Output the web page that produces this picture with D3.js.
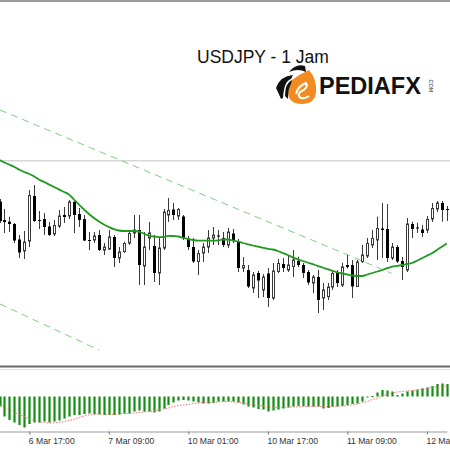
<!DOCTYPE html>
<html>
<head>
<meta charset="utf-8">
<script src="https://cdn.jsdelivr.net/npm/d3@7"></script>
<style>
body { margin: 0; background: #fff; }
svg { display: block; }
</style>
</head>
<body>
<svg id="chart" width="450" height="450"></svg>
<script>
var width = 450;
var height = 450;

// hourly bars, index 0 = 6 Mar 11:00
var tickBars = [6, 22, 38, 54, 70, 86];
var tickLabels = ["6 Mar 17:00", "7 Mar 09:00", "10 Mar 01:00", "10 Mar 17:00", "11 Mar 09:00", "12 Mar 01:00"];

var opens = [147.583, 147.400, 147.383, 147.360, 147.205, 147.090, 147.190, 147.640, 147.400, 147.410,
  147.335, 147.260, 147.340, 147.450, 147.440, 147.580, 147.460, 147.410, 147.200, 147.200,
  147.250, 147.100, 147.110, 147.230, 147.020, 147.085, 147.170, 147.270, 147.300, 146.940,
  147.220, 147.140, 146.870, 147.120, 147.450, 147.505, 147.440, 147.435, 147.215, 147.130,
  146.985, 147.070, 147.130, 147.220, 147.245, 147.220, 147.150, 147.265, 147.190, 146.920,
  146.900, 146.720, 146.870, 146.700, 146.865, 146.620, 146.885, 146.960, 146.900, 146.935,
  146.990, 146.950, 146.880, 146.770, 146.830, 146.620, 146.635, 146.730, 146.870, 146.750,
  146.950, 146.950, 146.735, 146.985, 147.040, 147.150, 147.200, 147.315, 147.310, 147.020,
  147.130, 146.990, 146.900, 147.360, 147.325, 147.305, 147.300, 147.410, 147.510, 147.570,
  147.510];
var highs = [147.610, 147.510, 147.433, 147.370, 147.250, 147.290, 147.700, 147.750, 147.490, 147.470,
  147.380, 147.400, 147.500, 147.530, 147.600, 147.600, 147.520, 147.450, 147.280, 147.280,
  147.300, 147.170, 147.300, 147.250, 147.130, 147.183, 147.300, 147.450, 147.450, 147.280,
  147.380, 147.250, 147.230, 147.510, 147.620, 147.570, 147.520, 147.450, 147.240, 147.220,
  147.100, 147.170, 147.300, 147.330, 147.300, 147.280, 147.320, 147.310, 147.210, 147.030,
  146.950, 146.880, 146.890, 146.860, 146.920, 146.970, 147.010, 147.020, 147.040, 147.100,
  147.033, 146.970, 146.900, 146.850, 146.900, 146.770, 146.770, 146.900, 146.900, 146.973,
  147.050, 147.000, 147.000, 147.150, 147.220, 147.300, 147.433, 147.570, 147.560, 147.170,
  147.150, 147.030, 147.420, 147.383, 147.373, 147.350, 147.440, 147.570, 147.590, 147.590,
  147.540];
var lows = [147.370, 147.270, 147.280, 147.170, 147.020, 147.010, 147.130, 147.380, 147.310, 147.250,
  147.240, 147.240, 147.320, 147.370, 147.410, 147.270, 147.330, 147.190, 147.100, 147.170,
  147.090, 147.050, 147.100, 146.930, 146.970, 147.070, 147.150, 147.220, 146.750, 146.750,
  147.100, 146.780, 146.750, 147.100, 147.380, 147.400, 147.400, 147.200, 147.100, 146.970,
  146.850, 146.980, 147.070, 147.150, 147.150, 147.130, 147.120, 147.170, 146.880, 146.880,
  146.720, 146.670, 146.620, 146.630, 146.530, 146.600, 146.870, 146.880, 146.880, 146.830,
  146.930, 146.820, 146.750, 146.670, 146.470, 146.500, 146.600, 146.700, 146.730, 146.730,
  146.915, 146.620, 146.730, 146.970, 147.020, 147.120, 147.000, 147.020, 146.980, 147.000,
  146.970, 146.800, 146.880, 147.220, 147.270, 147.230, 147.270, 147.380, 147.480, 147.383,
  147.390];
var closes = [147.390, 147.380, 147.360, 147.195, 147.075, 147.180, 147.645, 147.390, 147.395, 147.330,
  147.250, 147.345, 147.440, 147.430, 147.580, 147.450, 147.400, 147.195, 147.193, 147.240,
  147.100, 147.130, 147.230, 147.020, 147.080, 147.165, 147.265, 147.300, 146.950, 147.130,
  147.270, 146.870, 147.120, 147.480, 147.495, 147.450, 147.505, 147.220, 147.130, 146.985,
  147.065, 147.130, 147.220, 147.250, 147.235, 147.150, 147.280, 147.190, 146.920, 146.945,
  146.735, 146.850, 146.795, 146.830, 146.620, 146.890, 146.965, 146.920, 146.950, 147.000,
  146.950, 146.870, 146.775, 146.830, 146.600, 146.700, 146.730, 146.865, 146.770, 146.930,
  146.930, 146.735, 146.980, 147.050, 147.165, 147.215, 147.315, 147.300, 147.020, 147.130,
  146.985, 146.930, 147.360, 147.310, 147.315, 147.270, 147.405, 147.515, 147.570, 147.500,
  147.500];

// moving average
var ma = [148.000, 147.975, 147.953, 147.930, 147.903, 147.880, 147.860, 147.835, 147.803, 147.780,
  147.754, 147.730, 147.704, 147.680, 147.654, 147.604, 147.553, 147.505, 147.460, 147.420,
  147.385, 147.355, 147.330, 147.308, 147.295, 147.290, 147.290, 147.290, 147.285, 147.265,
  147.245, 147.235, 147.228, 147.230, 147.242, 147.240, 147.235, 147.220, 147.210, 147.200,
  147.194, 147.193, 147.193, 147.193, 147.195, 147.205, 147.205, 147.195, 147.185, 147.170,
  147.157, 147.145, 147.133, 147.122, 147.112, 147.105, 147.090, 147.070, 147.050, 147.027,
  147.007, 146.990, 146.975, 146.958, 146.942, 146.925, 146.908, 146.892, 146.877, 146.865,
  146.855, 146.845, 146.840, 146.840, 146.855, 146.870, 146.885, 146.900, 146.918, 146.934,
  146.942, 146.950, 146.960, 146.970, 146.993, 147.018, 147.043, 147.068, 147.100, 147.133,
  147.165];

// MACD histogram and signal
var macd = [-0.10, -0.20, -0.235, -0.26, -0.285, -0.31, -0.275, -0.26, -0.26, -0.25,
  -0.26, -0.25, -0.24, -0.22, -0.20, -0.185, -0.185, -0.175, -0.17, -0.175,
  -0.18, -0.185, -0.185, -0.185, -0.18, -0.17, -0.17, -0.15, -0.14, -0.15,
  -0.15, -0.16, -0.15, -0.12, -0.085, -0.06, -0.04, -0.035, -0.04, -0.05,
  -0.06, -0.07, -0.07, -0.065, -0.05, -0.05, -0.05, -0.05, -0.06, -0.08,
  -0.10, -0.11, -0.125, -0.13, -0.15, -0.14, -0.13, -0.12, -0.11, -0.10,
  -0.095, -0.095, -0.10, -0.10, -0.10, -0.12, -0.115, -0.10, -0.10, -0.095,
  -0.085, -0.075, -0.07, -0.05, -0.005, 0.005, 0.04, 0.065, 0.06, 0.05,
  0.015, 0.03, 0.05, 0.06, 0.07, 0.08, 0.09, 0.105, 0.125, 0.13,
  0.125];
var signal = [-0.085, -0.105, -0.13, -0.16, -0.18, -0.20, -0.225, -0.24, -0.255, -0.26,
  -0.265, -0.262, -0.258, -0.25, -0.24, -0.23, -0.21, -0.195, -0.185, -0.18,
  -0.175, -0.175, -0.175, -0.178, -0.175, -0.17, -0.17, -0.165, -0.16, -0.155,
  -0.15, -0.145, -0.135, -0.125, -0.115, -0.10, -0.09, -0.085, -0.08, -0.07,
  -0.065, -0.06, -0.06, -0.055, -0.055, -0.05, -0.05, -0.055, -0.06, -0.065,
  -0.075, -0.085, -0.09, -0.095, -0.105, -0.105, -0.11, -0.11, -0.105, -0.105,
  -0.105, -0.10, -0.10, -0.10, -0.10, -0.10, -0.10, -0.10, -0.095, -0.095,
  -0.09, -0.085, -0.075, -0.06, -0.05, -0.03, -0.015, 0.005, 0.02, 0.035,
  0.045, 0.05, 0.055, 0.06, 0.065, 0.075, 0.08, 0.09, 0.095, 0.10,
  0.11];

// channel lines: [bar index, price]
var upperChannel = [[0.1, 148.500], [78.9, 146.867]];
var lowerChannel = [[0.1, 146.560], [20.0, 146.100]];
var levelPrice = 147.993;

var x = d3.scaleLinear().domain([0, 90]).range([-0.5, 446.8]);
var y = d3.scaleLinear().domain([149.58, 145.94]).range([2, 366]);
var yMacd = d3.scaleLinear().domain([0.3, -0.35]).range([366.5, 431.5]);

var svg = d3.select("#chart").attr("viewBox", [0, 0, width, height]);

svg.append("rect").attr("width", width).attr("height", height).attr("fill", "#fff");

// frame line at the top
svg.append("line").attr("x1", 0).attr("x2", width).attr("y1", 1).attr("y2", 1)
    .attr("stroke", "#7a7a7a").attr("stroke-width", 1.5);

// level line
svg.append("line")
    .attr("x1", 0).attr("x2", width)
    .attr("y1", y(levelPrice)).attr("y2", y(levelPrice))
    .attr("stroke", "#d6d6d6").attr("stroke-width", 1.5);

// channel
var chanLine = d3.line().x(d => x(d[0])).y(d => y(d[1]));
[upperChannel, lowerChannel].forEach(function (c) {
    svg.append("path")
        .attr("d", chanLine(c))
        .attr("fill", "none")
        .attr("stroke", "#7fcf7f")
        .attr("stroke-width", 1)
        .attr("stroke-dasharray", "7,5");
});

var candles = opens.map((o, i) => ({i: i, o: o, h: highs[i], l: lows[i], c: closes[i]}));

var cg = svg.append("g");
cg.selectAll("line")
    .data(candles)
    .join("line")
    .attr("x1", d => Math.round(x(d.i)) + 0.5)
    .attr("x2", d => Math.round(x(d.i)) + 0.5)
    .attr("y1", d => y(d.h))
    .attr("y2", d => y(d.l))
    .attr("stroke", "#3a3a3a")
    .attr("stroke-width", 1);

cg.selectAll("rect")
    .data(candles)
    .join("rect")
    .attr("x", d => Math.round(x(d.i)) - 1 + (d.c >= d.o ? 0.5 : 0))
    .attr("width", d => d.c >= d.o ? 2 : 3)
    .attr("y", d => y(Math.max(d.o, d.c)))
    .attr("height", d => Math.max(1, y(Math.min(d.o, d.c)) - y(Math.max(d.o, d.c))))
    .attr("fill", d => d.c >= d.o ? "#fff" : "#000")
    .attr("stroke", d => d.c >= d.o ? "#3a3a3a" : "none")
    .attr("stroke-width", 1);

// moving average
svg.append("path")
    .attr("d", d3.line().x((d, i) => x(i)).y(d => y(d)).curve(d3.curveMonotoneX)(ma))
    .attr("fill", "none")
    .attr("stroke", "#1f9a1f")
    .attr("stroke-width", 1.8);

// separator between panels
svg.append("line").attr("x1", 0).attr("x2", width).attr("y1", 366.5).attr("y2", 366.5)
    .attr("stroke", "#6a6a6a").attr("stroke-width", 2);
svg.append("line").attr("x1", 0).attr("x2", width).attr("y1", 369.5).attr("y2", 369.5)
    .attr("stroke", "#dedede").attr("stroke-width", 1);

// MACD histogram
svg.append("g")
    .selectAll("rect")
    .data(macd)
    .join("rect")
    .attr("x", (d, i) => Math.round(x(i)) - 0.6)
    .attr("width", 2.2)
    .attr("y", d => yMacd(Math.max(0, d)))
    .attr("height", d => Math.max(1, Math.abs(yMacd(d) - yMacd(0))))
    .attr("fill", "#138f13");

svg.append("path")
    .attr("d", d3.line().x((d, i) => x(i)).y(d => yMacd(d)).curve(d3.curveMonotoneX)(signal))
    .attr("fill", "none")
    .attr("stroke", "#f07070")
    .attr("stroke-width", 1)
    .attr("stroke-dasharray", "1.5,1.5");

// time axis
var xAxis = g => g
    .attr("transform", "translate(0,431.5)")
    .call(d3.axisBottom(x).tickValues(tickBars).tickFormat((d, i) => tickLabels[i]).tickSizeOuter(0).tickSizeInner(3))
    .call(g => g.select(".domain").attr("stroke", "#9a9a9a"))
    .call(g => g.selectAll(".tick line").attr("stroke", "#777"))
    .call(g => g.selectAll(".tick text")
        .attr("text-anchor", "start")
        .attr("x", -1)
        .attr("y", 6)
        .attr("fill", "#333")
        .style("font-family", "'Liberation Sans', Arial, sans-serif")
        .style("font-size", "8.6px"));
svg.append("g").call(xAxis);

// title
svg.append("text")
    .attr("x", 197)
    .attr("y", 63)
    .text("USDJPY - 1 Jam")
    .attr("fill", "#111")
    .style("font-family", "'Liberation Sans', Arial, sans-serif")
    .style("font-size", "17.5px");

// logo
var logo = svg.append("g");
logo.append("path")
    .attr("d", "M292,80 Q300,74 309,70 Q317,79 316,92 Q315,104 302,104 Q289,104 288,93 Q288,85 292,80 Z")
    .attr("fill", "#f28b20");
logo.append("path")
    .attr("d", "M296,94 Q298,86 306,83 Q309,88 300,92 Q297,96 301,98 Q305,99 309,96")
    .attr("fill", "none").attr("stroke", "#fff").attr("stroke-width", 2);
logo.append("path")
    .attr("d", "M289,72 Q296,63 305,66 L306,72 Q298,68 289,72 Z")
    .attr("fill", "#111");
logo.append("path")
    .attr("d", "M276,88 Q280,76 293,75 L291,79 Q284,81 283,98 L281,99 Q278,92 276,88 Z")
    .attr("fill", "#111");
logo.append("path")
    .attr("d", "M285,96 Q285,83 292,80 L291,84 Q288,88 288,99 Z")
    .attr("fill", "#111");
logo.append("text")
    .attr("x", 319)
    .attr("y", 93.5)
    .text("PEDIAFX")
    .attr("fill", "#111")
    .style("font-family", "'Liberation Sans', Arial, sans-serif")
    .style("font-weight", "bold")
    .style("font-size", "23.5px");
logo.append("text")
    .attr("transform", "translate(428.5,78) rotate(90)")
    .text(".COM")
    .attr("fill", "#333")
    .style("font-family", "'Liberation Sans', Arial, sans-serif")
    .style("font-size", "5.5px");
</script>
</body>
</html>
